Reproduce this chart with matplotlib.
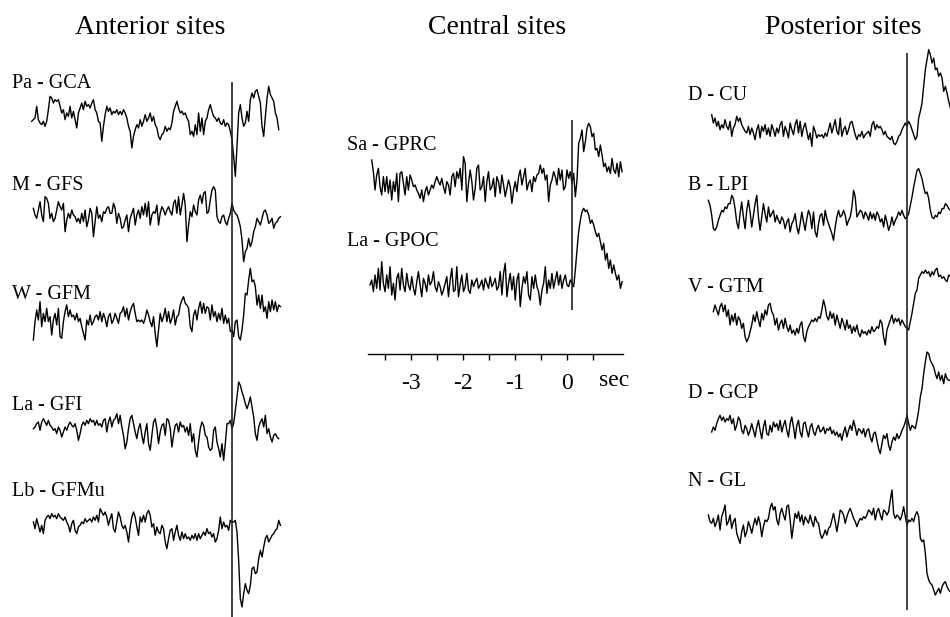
import numpy as np
import matplotlib.pyplot as plt

plt.rcParams['font.family'] = ['Liberation Serif', 'DejaVu Serif']
plt.rcParams['axes.unicode_minus'] = False

# sampling of the averaged traces
dt = 0.0321          # s between samples
stim = 0.1           # s, stimulus marker

# ---- anterior sites (amplitudes, arb. units) ----
pa_gca = [-10,-5,0,35,-5,-15,-20,-10,-25,-10,25,65,60,45,55,50,55,35,15,25,-5,15,5,35,0,20,-5,-30,15,30,45,25,50,35,40,30,45,55,25,15,-10,-15,-70,-25,10,35,20,30,10,20,15,25,10,20,10,25,15,0,-25,-40,-90,-55,-35,-20,-30,-5,-25,-10,10,-10,0,15,-10,5,-20,-30,-55,-65,-50,-45,-25,-40,-30,-35,-15,20,35,50,30,15,20,10,15,0,-10,-50,-40,-55,-20,-50,15,-40,0,-50,-10,0,25,40,20,5,0,-10,0,-15,-20,-5,-25,-15,-20,-40,-65,-115,-175,-85,15,40,0,-25,-15,20,-10,55,75,60,80,85,65,45,-25,-55,5,60,95,70,60,50,15,0,-35]
m_gfs = [20,0,-10,15,40,0,-20,55,50,35,-10,5,-20,-10,15,40,25,15,35,-50,-15,5,-10,15,0,-5,-20,-10,-25,5,-20,15,-35,-15,20,5,-65,-20,25,-10,0,-20,10,5,20,25,5,5,35,20,-25,5,-10,-40,-35,-15,0,-50,-10,5,20,-30,0,15,-10,25,0,35,-5,40,-30,0,10,5,30,-30,5,25,15,0,15,25,10,0,35,45,5,55,0,30,65,30,-80,-30,10,-5,30,10,0,45,60,35,65,70,5,10,45,75,85,75,-5,-20,-25,-5,0,-20,-30,-10,5,35,15,5,0,-15,-35,-75,-140,-110,-100,-70,-95,-80,-50,-35,-10,-20,-30,-10,10,15,0,-25,-20,-10,-40,-25,-20,-10,-5]
w_gfm = [-60,-5,30,0,55,-20,20,-5,35,-5,10,-45,0,20,-15,35,-50,-55,-5,25,45,10,30,10,15,0,20,-5,5,-20,-40,-60,0,-15,15,-15,-5,10,15,0,25,-5,20,5,-20,10,20,-10,0,20,5,-10,20,25,40,10,35,0,25,40,50,20,-5,0,-5,0,-10,5,30,15,-5,-20,10,-40,-80,-30,20,-5,10,35,-5,25,-10,5,30,-15,10,15,45,60,70,50,45,35,-20,-35,15,30,0,35,55,20,50,20,40,35,0,45,10,25,-5,20,0,35,-10,15,-10,5,-35,-30,-50,-5,0,-50,-60,-30,15,80,75,120,155,115,120,100,45,75,35,75,25,40,5,55,25,60,30,55,25,45,40]
la_gfi = [-5,0,10,15,-10,15,25,15,5,20,5,0,-10,-5,-20,0,-10,-30,-15,0,-10,5,15,5,0,10,-10,-40,-20,5,15,5,20,10,25,15,20,5,20,5,10,0,20,25,-15,15,30,0,20,25,40,10,35,0,-25,-65,-45,-5,25,35,10,-15,-35,-5,10,-25,-50,-15,10,-50,-70,-25,15,25,-5,-50,-15,5,10,-25,25,20,-5,-60,-25,5,10,-15,15,0,5,-15,0,-25,10,-45,-20,-70,-90,-45,-5,15,5,-25,-30,-60,-70,-65,-10,0,-45,-65,-90,-50,-100,-50,10,10,20,-5,10,50,90,135,125,105,90,70,55,70,90,60,30,-20,-40,0,15,25,0,35,-20,-5,-30,-45,-25,-20,-30,-35]
lb_gfmu = [0,-20,10,-10,-30,-10,-35,5,15,20,10,25,15,20,10,25,15,10,5,15,0,-10,-30,-5,5,-25,-35,-15,-10,0,-5,10,0,5,10,0,15,5,20,0,40,30,20,30,15,-10,10,25,-20,-30,0,30,15,-10,-20,-10,-30,-60,-15,15,30,15,-15,-40,15,0,20,0,25,35,20,-15,-5,-40,-15,-30,-35,-10,-20,-60,-80,-50,-25,-20,-55,-30,-10,-40,-55,-30,-50,-35,-50,-45,-55,-40,-50,-35,-55,-35,-50,-40,-30,-40,-20,-35,-30,-45,-35,-60,-50,-25,15,-20,0,-15,-10,-25,5,0,0,5,-30,-115,-230,-255,-215,-185,-205,-215,-190,-140,-135,-155,-150,-110,-85,-105,-75,-50,-40,-60,-50,-40,-35,-25,-20,5,-10]

# ---- central sites ----
sa_gprc = [60,25,-30,15,35,-20,-45,10,-35,10,-40,0,-60,-5,-35,20,-65,20,25,-10,-45,10,-30,15,0,-20,-15,-30,-40,-55,-30,-65,-35,-20,-45,-30,-15,-25,-5,10,-5,-15,5,-20,-40,-5,-15,-45,10,20,-20,25,5,35,-30,70,50,-65,-10,30,-5,-60,-25,35,45,-30,-20,10,-65,-5,25,-30,-20,5,-50,10,-5,-40,15,-15,-50,-25,0,-20,-70,-30,-5,-35,10,30,-15,10,35,-30,-10,0,-35,10,-5,15,20,45,20,35,0,15,-65,-15,0,25,10,-15,35,0,30,-30,-20,30,5,25,-10,20,-50,0,110,125,150,85,115,155,170,160,130,140,90,95,70,105,75,40,50,25,40,20,65,30,20,50,10,55,25]
la_gpoc = [0,15,-20,30,-10,50,-15,70,5,-20,30,-10,55,-30,5,-45,20,35,-15,50,0,-20,35,0,-15,25,-10,-30,10,40,0,-35,20,5,-20,30,0,10,40,-5,-20,10,-5,-30,-15,5,25,-35,15,50,-20,-15,55,-35,0,30,-20,-5,35,-15,-25,15,-5,10,20,-10,0,15,-15,20,5,-10,25,-5,5,20,-15,-5,40,-30,35,65,-35,5,35,-15,25,-45,15,35,-65,-10,25,5,40,-30,-45,25,-10,30,-5,-20,-60,-15,5,55,-25,15,-10,35,-10,15,40,0,30,-10,15,30,0,-5,15,5,-5,45,105,160,195,220,230,220,225,210,185,195,180,160,145,155,130,105,125,75,95,50,75,35,60,35,15,30,-10,10]

# ---- posterior sites ----
d_cu = [40,15,30,5,20,-5,10,0,25,5,-5,20,-25,0,10,35,20,30,10,0,-10,-15,5,-20,0,-15,-35,-5,10,-30,5,-10,10,-20,0,-25,10,-5,-25,0,-15,10,20,-25,5,-10,-30,15,-5,-20,10,25,-15,20,-25,0,15,-10,-35,-15,-55,5,-10,-30,-20,-25,-20,-30,-15,-25,-5,15,-15,5,25,-10,-20,30,-25,-5,5,-20,-5,15,20,0,-20,-35,-20,-25,-10,-30,-20,-15,-10,-25,10,20,-5,10,0,5,-5,-20,-10,-25,-30,-35,-25,-45,-50,-40,-25,-20,-5,5,15,5,20,10,-5,-20,-35,-25,30,50,75,125,175,205,235,220,195,210,175,180,155,165,150,110,125,105,80,60]
b_lpi = [50,35,5,-35,-40,-30,-10,5,20,15,30,25,40,40,65,55,25,-15,-35,10,45,0,-35,20,50,15,-30,5,40,65,0,-40,0,40,10,-15,30,0,10,20,-15,5,-10,-20,0,-10,-35,-15,-5,-45,-20,-10,10,-30,-50,-20,15,-15,-40,-5,20,5,-35,15,-45,-60,-20,5,10,-25,20,-5,-20,-35,-50,-70,-30,0,20,0,5,20,5,-25,-10,0,30,80,60,0,10,20,15,-5,15,5,-10,15,-5,10,-10,15,5,-15,-5,-30,5,-15,-40,-25,0,-25,-10,0,15,5,20,5,-5,0,10,35,60,90,115,140,145,130,115,90,70,75,55,20,0,-5,5,0,15,10,25,25,40,35,25,20]
v_gtm = [25,45,30,15,40,50,25,45,10,30,-15,15,-5,20,-15,10,0,-25,-10,-50,-65,-55,-35,-15,15,-5,25,0,-20,20,0,30,15,45,50,25,15,-15,5,-30,-10,0,-25,5,-20,-35,-15,-40,-30,-45,-25,-40,-15,-5,-50,-65,-35,-20,-10,0,-5,5,-5,10,5,30,60,40,10,0,25,5,20,-15,15,-5,-25,5,-10,-30,0,-25,-15,-40,-20,-35,-15,-40,-50,-30,-40,-35,-45,-30,-40,-20,-35,-30,-20,-25,0,-10,-50,-75,-30,-15,0,15,-10,5,-5,5,-15,0,-10,-20,-25,-30,-5,20,50,80,90,125,135,145,140,150,140,145,130,145,135,150,155,130,135,125,130,120,115,135,130]
d_gcp = [-15,0,-10,10,25,35,20,30,15,25,20,35,10,25,-10,5,30,20,-10,-20,5,-5,-25,-10,10,-10,-30,0,20,-10,-35,0,20,-20,-25,5,-15,15,0,10,-10,20,-15,5,20,-10,-30,10,30,0,-35,5,20,-15,-30,10,15,-10,-30,0,10,-15,-25,-5,5,-15,-10,0,-20,-5,-10,0,-20,-10,-25,-15,-30,-20,-40,-15,0,-30,-10,5,-10,20,0,-25,-5,-10,-20,-5,-30,-10,-5,-30,-45,-20,-15,-40,-65,-80,-50,-25,-35,-20,-55,-70,-45,-30,-40,-20,-35,-25,-10,0,15,35,10,-10,5,0,-5,20,50,90,115,160,195,225,220,200,190,180,160,145,165,140,155,130,160,145,140,140]
n_gl = [15,-5,-10,5,-20,-5,15,-30,10,25,45,-15,-5,15,-25,-5,5,-40,-55,-70,-35,-15,-50,-35,-5,-20,-40,-15,5,-15,10,-10,-50,-20,0,-5,5,35,50,30,40,0,-15,20,35,15,0,40,45,0,-55,-15,20,5,25,-5,15,-15,10,0,-10,15,-5,-20,10,-5,-10,-40,-55,-45,-30,-45,-25,-20,0,20,-5,-35,-5,30,25,15,-10,10,25,35,20,5,-5,-20,-5,5,0,10,5,15,30,25,15,35,0,25,35,15,0,30,25,15,25,60,90,20,5,15,10,0,15,40,10,-15,0,-5,5,-5,15,25,10,-55,-65,-60,-100,-160,-180,-190,-195,-210,-225,-215,-205,-220,-200,-190,-185,-200,-210,-215]

# label, samples, start time (s)
anterior = [('Pa - GCA', pa_gca, -3.756), ('M - GFS', m_gfs, -3.724),
            ('W - GFM', w_gfm, -3.724), ('La - GFI', la_gfi, -3.724),
            ('Lb - GFMu', lb_gfmu, -3.724)]
central = [('Sa - GPRC', sa_gprc, -3.756), ('La - GPOC', la_gpoc, -3.788)]
posterior = [('D - CU', d_cu, -3.660), ('B - LPI', b_lpi, -3.724),
             ('V - GTM', v_gtm, -3.628), ('D - GCP', d_gcp, -3.660),
             ('N - GL', n_gl, -3.724)]

# layout (pixels)
W, H = 950, 617
pxs = 52.0        # px per second
gain = 1 / 3.     # px per amplitude unit

fig = plt.figure(figsize=(W / 100, H / 100), dpi=100)


def column(x_left, x_right, y_bottom, t0_px):
    ax = fig.add_axes([x_left / W, 1 - y_bottom / H, (x_right - x_left) / W, y_bottom / H])
    ax.set_xlim((x_left - t0_px) / pxs, (x_right - t0_px) / pxs)
    ax.set_ylim(y_bottom, 0)
    ax.patch.set_visible(False)
    return ax


def traces(ax, sites, bases, label_x, label_y, line_span):
    for (name, v, t0), base, ly in zip(sites, bases, label_y):
        v = np.asarray(v, float)
        t = t0 + dt * np.arange(len(v))
        ax.plot(t, base - v * gain, color='black', lw=1.0)
        fig.text(label_x / W, 1 - ly / H, name, fontsize=14.5, va='center', ha='left')
    ax.vlines(stim, line_span[0], line_span[1], color='#222222', lw=1.2)


ax_l = column(0, 300, H, 227)
ax_l.axis('off')
traces(ax_l, anterior, [118, 215, 320, 427, 522], 12, [83, 185, 294, 405, 492], (82, 617))

ax_c = column(368, 623, 354, 567)
traces(ax_c, central, [180, 285], 347, [146, 241], (120, 310))
for s in ['top', 'left', 'right']:
    ax_c.spines[s].set_visible(False)
ax_c.spines['bottom'].set_linewidth(1.0)
ax_c.set_yticks([])
ax_c.set_xticks([-3, -2, -1, 0])
ax_c.set_xticks(np.arange(-3.5, 0.51, 0.5), minor=True)
ax_c.tick_params(axis='x', which='both', direction='out', length=4, width=1, labelsize=17, pad=10)
ax_c.text(0.9, -27 / 354, 'sec', transform=ax_c.get_xaxis_transform(), fontsize=17, ha='center', va='center')

ax_r = column(660, 950, H, 902)
ax_r.axis('off')
traces(ax_r, posterior, [128, 217, 320, 427, 520], 688, [96, 185, 288, 393, 482], (53, 610))

for x, title in [(150, 'Anterior sites'), (497, 'Central sites'), (843, 'Posterior sites')]:
    fig.text(x / W, 1 - 27 / H, title, fontsize=20, ha='center', va='center')

fig.savefig('out.png', dpi=100)
